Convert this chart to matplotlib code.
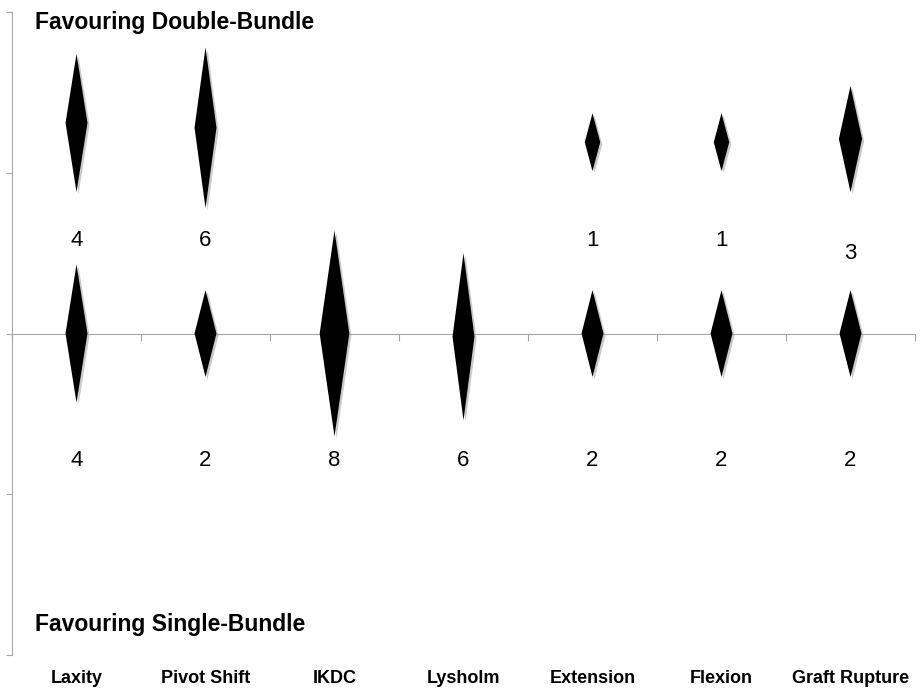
import matplotlib.pyplot as plt
import matplotlib.patheffects as pe
from matplotlib.patches import Polygon
import numpy as np

categories = ['Laxity', 'Pivot Shift', 'IKDC', 'Lysholm', 'Extension', 'Flexion', 'Graft Rupture']

# favouring double-bundle (upper row); None where no study
db_counts = [4, 6, None, None, 1, 1, 3]
db_center = [1.31, 1.28, None, None, 1.19, 1.19, 1.21]
db_half_h = [0.43, 0.50, None, None, 0.18, 0.18, 0.33]
db_width = [0.17, 0.17, None, None, 0.12, 0.12, 0.18]
db_label_y = [0.58, 0.58, None, None, 0.58, 0.58, 0.50]

# favouring single-bundle (lower row)
sb_counts = [4, 2, 8, 6, 2, 2, 2]
sb_center = [0.0, 0.0, 0.0, -0.02, 0.0, 0.0, 0.0]
sb_half_h = [0.43, 0.27, 0.64, 0.52, 0.27, 0.27, 0.27]
sb_width = [0.17, 0.17, 0.23, 0.17, 0.17, 0.17, 0.17]
sb_label_y = [-0.79] * 7

plt.rcParams['font.family'] = ['Liberation Sans', 'DejaVu Sans']

fig = plt.figure(figsize=(9.22, 6.88), dpi=100)
ax = fig.add_axes([12 / 922, 1 - 655 / 688, 903 / 922, 643 / 688])
ax.set_xlim(-0.5, 6.5)
ax.set_ylim(-2, 2)

grey = '#a6a6a6'
for s in ['top', 'right']:
    ax.spines[s].set_visible(False)
ax.spines['left'].set_color(grey)
ax.spines['bottom'].set_color(grey)
ax.spines['bottom'].set_position(('data', 0))
ax.set_xticks(np.arange(-0.5, 6.6, 1))
ax.set_yticks([-2, -1, 0, 1, 2])
ax.tick_params(axis='x', direction='out', length=5, color=grey, labelbottom=False)
ax.tick_params(axis='y', direction='out', length=4, color=grey, labelleft=False)

shadow = [pe.SimplePatchShadow(offset=(1.5, -1.5), shadow_rgbFace='#999999', alpha=0.5), pe.Normal()]


def diamond(x, yc, hh, w):
    pts = [(x, yc + hh), (x + w / 2, yc), (x, yc - hh), (x - w / 2, yc)]
    p = Polygon(pts, closed=True, facecolor='black', edgecolor='none', zorder=3)
    p.set_path_effects(shadow)
    ax.add_patch(p)


for i in range(len(categories)):
    if db_counts[i] is not None:
        diamond(i, db_center[i], db_half_h[i], db_width[i])
        ax.text(i, db_label_y[i], str(db_counts[i]), ha='center', va='center', fontsize=16)
    diamond(i, sb_center[i], sb_half_h[i], sb_width[i])
    ax.text(i, sb_label_y[i], str(sb_counts[i]), ha='center', va='center', fontsize=16)

fig.text(35 / 922, 1 - 22 / 688, 'Favouring Double-Bundle',
         ha='left', va='center', fontsize=16.5, fontweight='bold')
fig.text(35 / 922, 1 - 624 / 688, 'Favouring Single-Bundle',
         ha='left', va='center', fontsize=16.5, fontweight='bold')

# category labels sit below the axes area
for i, c in enumerate(categories):
    ax.text(i, -2 - 23 / 160.6, c, ha='center', va='center',
            fontsize=13, fontweight='bold', clip_on=False)

fig.savefig('out.png', dpi=100)
